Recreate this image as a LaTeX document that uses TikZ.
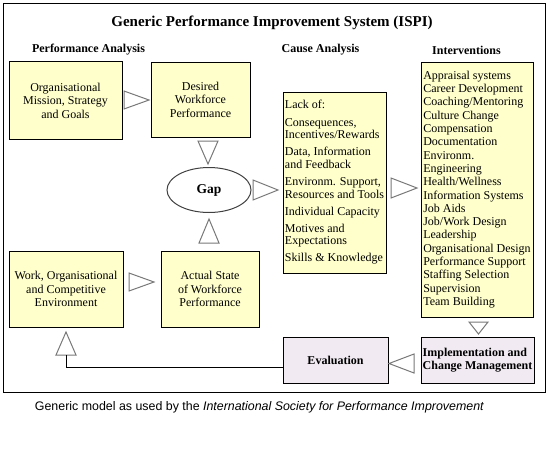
\documentclass[tikz,border=0pt]{standalone}
\usepackage{fontspec}
\setmainfont{Liberation Serif}
\newfontfamily\capfont{Liberation Sans}
\usepackage{tikz}
\usepackage{xcolor}
\usetikzlibrary{shapes.geometric}
\definecolor{boxyellow}{RGB}{255,255,204}
\definecolor{boxlilac}{RGB}{241,234,242}
\definecolor{trigray}{RGB}{120,120,120}

\begin{document}
\begin{tikzpicture}[x=1pt, y=-1pt, line width=1pt,
	box/.style={draw, fill=boxyellow, inner sep=0pt, align=center, font=\fontsize{12}{13.5}\selectfont},
	list/.style={draw, fill=boxyellow, inner sep=0pt, align=left, font=\fontsize{12}{12.6}\selectfont},
	mgmt/.style={draw, fill=boxlilac, inner sep=0pt, align=left, font=\fontsize{12}{13}\selectfont\bfseries},
	head/.style={font=\fontsize{12}{14}\selectfont\bfseries},
	tri/.style={draw=trigray, fill=white, line join=miter}]
	\useasboundingbox (0,0) rectangle (548,450);
	\draw (3,3) rectangle (545,392);
	\node[font=\fontsize{15}{18}\selectfont\bfseries] (title) at (272,23) {Generic Performance Improvement System (ISPI)};
		\node[head] (hpa) at (88.5,50) {Performance Analysis};
		\node[head] (hca) at (320.5,50) {Cause Analysis};
		\node[head] (hiv) at (466.5,50) {Interventions};
	% performance analysis
	\node[box, minimum width=113pt, minimum height=78pt] (org) at (65.5,100.5) {Organisational\\Mission, Strategy\\and Goals};
	\node[box, minimum width=99pt, minimum height=75pt] (des) at (200.5,99.5) {Desired\\Workforce\\Performance};
	\node[ellipse, draw=black!75, fill=white, minimum width=84pt, minimum height=45pt, inner sep=0pt,
		font=\fontsize{13.5}{15}\selectfont\bfseries] (gap) at (209,190) {Gap};
	\node[box, minimum width=114pt, minimum height=76pt] (work) at (66,289) {Work, Organisational\\and Competitive\\Environment};
	\node[box, minimum width=98pt, minimum height=76pt] (act) at (210,289) {Actual State\\of Workforce\\Performance};
	% cause analysis
	\node[list, minimum width=103pt, minimum height=181pt] (cause) at (334.5,182.5) {Lack of:\\[4.5pt]
		Consequences,\\Incentives/Rewards\\[4.5pt]
		Data, Information\\and Feedback\\[4.5pt]
		Environm. Support,\\Resources and Tools\\[4.5pt]
		Individual Capacity\\[4.5pt]
		Motives and\\Expectations\\[4.5pt]
		Skills \& Knowledge};
	% interventions
	\node[list, font=\fontsize{12}{13.3}\selectfont, minimum width=112pt, minimum height=255pt] (intv) at (477,189.5) {Appraisal systems\\Career Development\\
		Coaching/Mentoring\\Culture Change\\Compensation\\Documentation\\Environm.\\Engineering\\
		Health/Wellness\\Information Systems\\Job Aids\\Job/Work Design\\Leadership\\
		Organisational Design\\Performance Support\\Staffing Selection\\Supervision\\Team Building};
	\node[mgmt, minimum width=113pt, minimum height=46pt] (impl) at (477.5,360) {Implementation and\\Change Management};
	\node[mgmt, minimum width=105pt, minimum height=46pt] (eval) at (335.5,360) {Evaluation};
	% arrows
	\draw[tri] (124,91) -- (149,100) -- (124,109) -- cycle;
	\draw[tri] (198,141) -- (218,141) -- (208,164) -- cycle;
	\draw[tri] (253,180) -- (278,190) -- (253,200) -- cycle;
	\draw[tri] (199,243) -- (219,243) -- (209,219) -- cycle;
	\draw[tri] (391,178) -- (417,188) -- (391,198) -- cycle;
	\draw[tri] (129,273) -- (154,282) -- (129,291) -- cycle;
	\draw[tri] (469,322) -- (488,322) -- (478.5,334) -- cycle;
	\draw[tri] (414,354) -- (389,363.5) -- (414,373) -- cycle;
		\coordinate (fb) at (66,355);
	\draw[tri] (fb) -- ++(-10,0) -- ++(10,-23) -- ++(10,23) -- cycle;
	\draw ([yshift=-7pt]eval.west) -| (fb);
	\node[font=\capfont\fontsize{12.4}{14}\selectfont] (note) at (259.5,407) {Generic model as used by the \textit{International Society for Performance Improvement}};
\end{tikzpicture}
\end{document}
